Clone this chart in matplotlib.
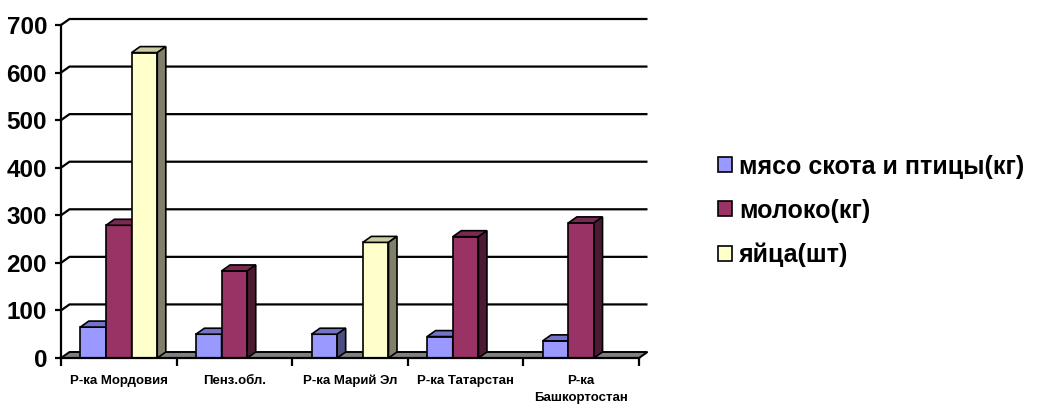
import matplotlib
matplotlib.use("Agg")
import matplotlib.pyplot as plt
from matplotlib.patches import Polygon
import numpy as np

plt.rcParams['font.family'] = ['Liberation Sans', 'DejaVu Sans']
plt.rcParams['font.weight'] = 'bold'

categories = ["Р-ка Мордовия", "Пенз.обл.", "Р-ка Марий Эл", "Р-ка Татарстан", "Р-ка\nБашкортостан"]
series_names = ["мясо скота и птицы(кг)", "молоко(кг)", "яйца(шт)"]
meat = [65, 50, 50, 45, 36]
milk = [279, 183, 0, 255, 284]
eggs = [642, 0, 243, 0, 0]
yticks = [0, 100, 200, 300, 400, 500, 600, 700]

front_colors = ["#9999FF", "#993366", "#FFFFCC"]
top_colors = ["#7373C8", "#7A2952", "#CCCCA3"]
side_colors = ["#4D4D80", "#4D1A33", "#80806A"]

W, H, DPI = 1042, 407, 100
fig = plt.figure(figsize=(W / DPI, H / DPI), dpi=DPI)
ax_l, ax_r, ax_b, ax_t = 61, 639, 358, 25
ax = fig.add_axes([ax_l / W, (H - ax_b) / H, (ax_r - ax_l) / W, (ax_b - ax_t) / H])
ncat = len(categories)
ax.set_xlim(0, ncat)
ax.set_ylim(0, 700)

DX_PX, DY_PX = 8.5, 6
dx = DX_PX / ((ax_r - ax_l) / ncat)
dy = DY_PX / ((ax_b - ax_t) / 700)

# back-wall gridlines with side-wall diagonals
for v in yticks[1:]:
    ax.plot([0, dx, ncat + dx], [v, v + dy, v + dy], color="black", lw=1.6,
            clip_on=False, zorder=1, solid_capstyle="butt")

# floor
floor = Polygon([(0, 0), (ncat, 0), (ncat + dx, dy), (dx, dy)], closed=True,
                facecolor="#808080", edgecolor="black", lw=1.4, clip_on=False, zorder=2)
ax.add_patch(floor)

x = np.arange(ncat)
bw = 0.222
series = [meat, milk, eggs]
handles = []
for k, vals in enumerate(series):
    pos = x + 0.5 + (k - 1) * bw
    bars = ax.bar(pos, vals, width=bw, color=front_colors[k], edgecolor="black",
                  linewidth=1.2, zorder=3, label=series_names[k], clip_on=False)
    handles.append(bars)

# 3D top and side faces, drawn left to right
z = 3
for i in range(ncat):
    for k in range(3):
        v = series[k][i]
        rect = handles[k].patches[i]
        if v <= 0:
            rect.set_visible(False)
            continue
        x0 = rect.get_x()
        x1 = x0 + rect.get_width()
        rect.set_zorder(z)
        top = Polygon([(x0, v), (x1, v), (x1 + dx, v + dy), (x0 + dx, v + dy)], closed=True,
                      facecolor=top_colors[k], edgecolor="black", lw=1.2, clip_on=False, zorder=z)
        side = Polygon([(x1, 0), (x1 + dx, dy), (x1 + dx, v + dy), (x1, v)], closed=True,
                       facecolor=side_colors[k], edgecolor="black", lw=1.2, clip_on=False, zorder=z)
        ax.add_patch(top)
        ax.add_patch(side)
        z += 0.01

for s in ["top", "right"]:
    ax.spines[s].set_visible(False)
ax.spines["left"].set_linewidth(1.6)
ax.spines["bottom"].set_linewidth(1.6)
ax.spines["bottom"].set_zorder(10)

ax.set_yticks(yticks)
ax.set_yticklabels([str(t) for t in yticks], fontsize=17.5, fontweight="bold")
ax.tick_params(axis="y", direction="out", length=4, width=1.6, pad=6)

ax.set_xticks(np.arange(ncat + 1))
ax.set_xticklabels([])
ax.tick_params(axis="x", which="major", direction="out", length=6, width=1.6)
ax.set_xticks(x + 0.5, minor=True)
ax.set_xticklabels(categories, minor=True, fontsize=9.5, fontweight="bold", linespacing=1.6)
ax.tick_params(axis="x", which="minor", length=0, pad=12)

leg = fig.legend(handles=handles, labels=series_names, loc="center left",
                 bbox_to_anchor=(718 / W, (H - 211) / H), frameon=False,
                 prop={"size": 18, "weight": "bold"}, handlelength=0.55, handleheight=0.55,
                 handletextpad=0.3, labelspacing=0.8, borderpad=0, borderaxespad=0)

fig.savefig("out.png", dpi=DPI)
